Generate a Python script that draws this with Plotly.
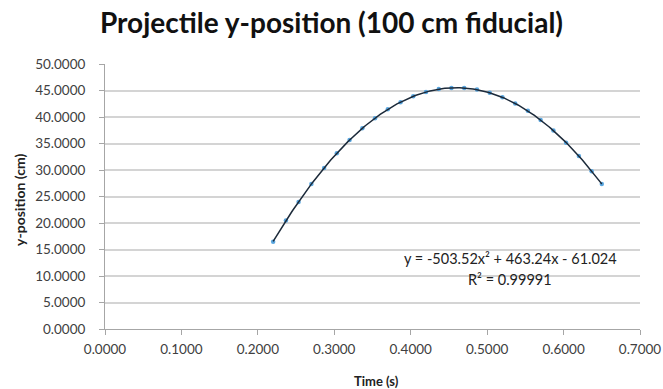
import plotly.graph_objects as go
import numpy as np

# Data
time_s = [0.2200, 0.2367, 0.2533, 0.2700, 0.2867, 0.3033, 0.3200, 0.3367, 0.3533,
          0.3700, 0.3867, 0.4033, 0.4200, 0.4367, 0.4533, 0.4700, 0.4867, 0.5033,
          0.5200, 0.5367, 0.5533, 0.5700, 0.5867, 0.6033, 0.6200, 0.6367, 0.6500]
y_cm = [16.48, 20.45, 23.98, 27.37, 30.38, 33.18, 35.64, 37.89, 39.77,
        41.47, 42.79, 43.93, 44.70, 45.27, 45.49, 45.46, 45.18, 44.56,
        43.73, 42.54, 41.16, 39.42, 37.46, 35.16, 32.66, 29.78, 27.36]

# Trendline coefficients (as displayed)
coef_a, coef_b, coef_c = -503.52, 463.24, -61.024
eq_text = "y = -503.52x² + 463.24x - 61.024"
r2_text = "R² = 0.99991"

x_ticks = [0.0, 0.1, 0.2, 0.3, 0.4, 0.5, 0.6, 0.7]
y_ticks = [0, 5, 10, 15, 20, 25, 30, 35, 40, 45, 50]

tx = np.linspace(min(time_s), max(time_s), 200)
ty = coef_a * tx**2 + coef_b * tx + coef_c

font_family = "Lato, Open Sans, sans-serif"

fig = go.Figure()
fig.add_trace(go.Scatter(x=time_s, y=y_cm, mode="markers",
                         marker=dict(size=4.5, color="#5aa7e0", line=dict(width=0)),
                         showlegend=False))
fig.add_trace(go.Scatter(x=tx, y=ty, mode="lines",
                         line=dict(color="#1c2a3a", width=1.5, dash="solid"),
                         showlegend=False))

fig.add_annotation(x=0.530, y=13.3, xref="x", yref="y", text=eq_text,
                   showarrow=False, font=dict(family=font_family, size=14.5, color="#222222"))
fig.add_annotation(x=0.530, y=9.3, xref="x", yref="y", text=r2_text,
                   showarrow=False, font=dict(family=font_family, size=14.5, color="#222222"))

# Axis titles as annotations (fixed positions)
fig.add_annotation(x=0.507, y=-0.196, xref="paper", yref="paper", text="<b>Time (s)</b>",
                   showarrow=False, xanchor="center", yanchor="middle",
                   font=dict(family=font_family, size=13, color="#222222"))
fig.add_annotation(x=-0.159, y=0.487, xref="paper", yref="paper", text="<b>y-position (cm)</b>",
                   showarrow=False, xanchor="center", yanchor="middle", textangle=-90,
                   font=dict(family=font_family, size=14, color="#222222"))

fig.update_layout(
    width=663, height=389,
    margin=dict(l=105, r=23, t=64, b=60, autoexpand=False),
    paper_bgcolor="white", plot_bgcolor="white",
    title=dict(text="<b>Projectile y-position (100 cm fiducial)</b>",
               x=0.5, xanchor="center", y=0.941, yanchor="middle",
               font=dict(family=font_family, size=28, color="#111111")),
    xaxis=dict(range=[0, 0.7], tickvals=x_ticks, tickformat=".4f", automargin=False,
               showgrid=False, zeroline=False, showline=True, linecolor="#a6a6a6", linewidth=1,
               ticks="outside", ticklen=5, tickcolor="#a6a6a6", ticklabelstandoff=3,
               tickfont=dict(family=font_family, size=13.5, color="#404040")),
    yaxis=dict(range=[0, 50], tickvals=y_ticks, tickformat=".4f", automargin=False,
               showgrid=True, gridcolor="#d4d4d4", gridwidth=1.5, zeroline=False,
               showline=True, linecolor="#a6a6a6", linewidth=1,
               ticks="outside", ticklen=5, tickcolor="#a6a6a6", ticklabelstandoff=11,
               tickfont=dict(family=font_family, size=13.5, color="#404040")),
)

fig.write_html("out.html")
